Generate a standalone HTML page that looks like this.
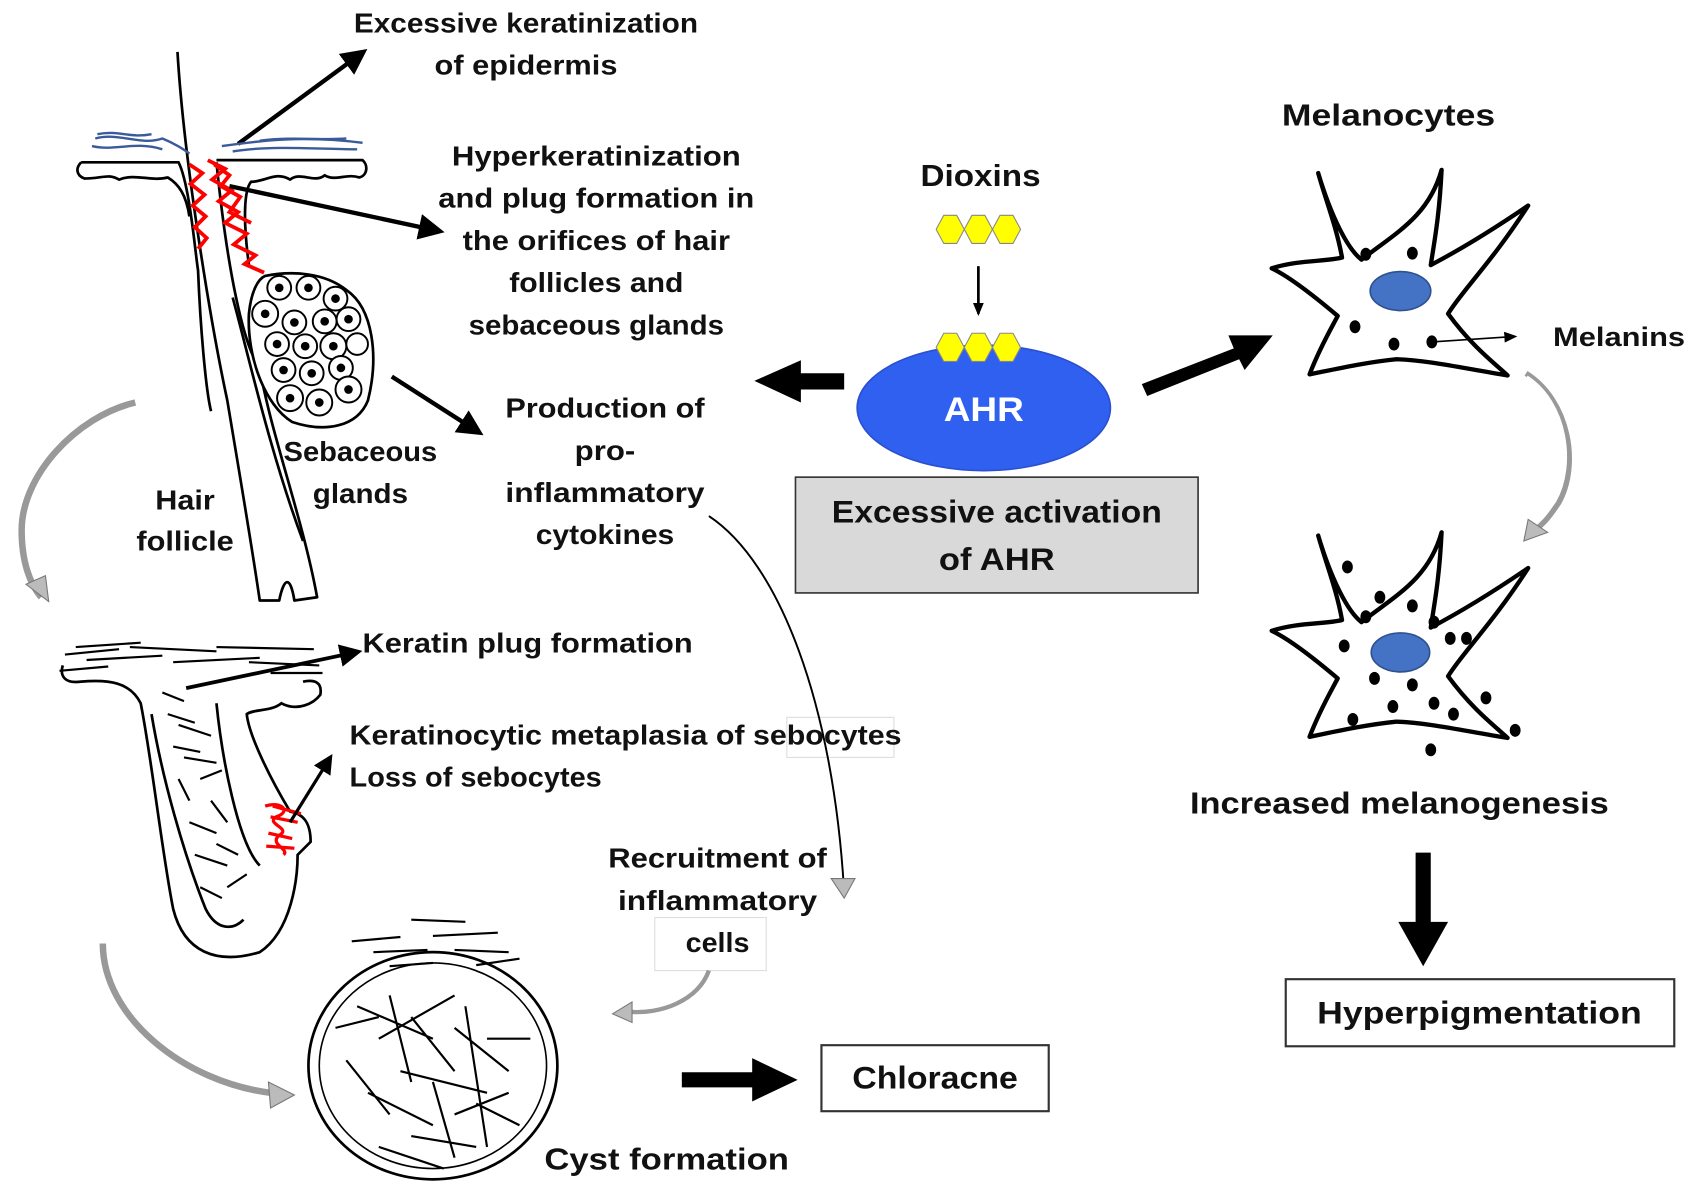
<!DOCTYPE html>
<html><head><meta charset="utf-8"><style>
html,body{margin:0;padding:0;background:#fff;}
svg{display:block;}
text{font-family:"Liberation Sans",sans-serif;font-weight:bold;fill:#111;}
</style></head><body>
<svg width="1697" height="1201" viewBox="0 0 1568 1110" preserveAspectRatio="none" xmlns="http://www.w3.org/2000/svg">
<defs>
<marker id="ah" markerWidth="6" markerHeight="6" refX="4" refY="3" orient="auto" markerUnits="strokeWidth"><path d="M0,0 L6,3 L0,6 Z" fill="#000"/></marker>
<marker id="ahs" markerWidth="12" markerHeight="10" refX="10" refY="5" orient="auto" markerUnits="userSpaceOnUse"><path d="M0,0 L12,5 L0,10 Z" fill="#000"/></marker>
<g id="hex"><polygon points="-6,-13 6,-13 13,0 6,13 -6,13 -13,0" fill="#ffff00" stroke="#888" stroke-width="1"/></g>
</defs>

<!-- top labels -->
<text x="486" y="30" font-size="26" text-anchor="middle" textLength="318" lengthAdjust="spacingAndGlyphs">Excessive keratinization</text>
<text x="486" y="69" font-size="26" text-anchor="middle" textLength="169" lengthAdjust="spacingAndGlyphs">of epidermis</text>
<line x1="220" y1="133" x2="333" y2="50" stroke="#000" stroke-width="4" marker-end="url(#ah)"/>

<!-- follicle 1 -->
<g fill="none" stroke="#000" stroke-width="2.5" stroke-linejoin="round">
<path d="M164,48 C170,150 195,300 210,370 C220,430 232,500 240,555 L258,555 C262,535 268,530 272,555 L293,552 C280,480 250,400 240,340"/>
<path d="M200,150 C210,250 225,320 240,340"/>
<path d="M75,150 L165,150 C175,170 180,230 183,250 C185,300 190,360 195,380"/>
<path d="M75,150 C70,155 70,162 78,165 C95,165 100,160 110,166 C125,160 140,168 155,164 C165,170 172,180 175,200"/>
<path d="M200,148 L335,148 C340,152 340,162 332,164 C320,160 310,168 300,162 C290,170 278,158 268,166 C255,158 245,168 232,168 C226,175 224,200 230,245"/>
<path d="M215,275 C230,330 250,420 280,500"/>
</g>
<g fill="none" stroke="#3a5a9a" stroke-width="2.2">
<path d="M88,128 C110,122 130,135 150,128 C160,132 170,138 175,142"/>
<path d="M85,135 C105,140 125,130 150,138"/>
<path d="M90,124 C110,120 120,128 140,124"/>
<path d="M205,135 C240,130 280,125 335,132"/>
<path d="M215,140 C250,134 300,138 330,138"/>
<path d="M240,130 C270,126 300,130 320,128"/>
</g>
<g fill="none" stroke="#f00" stroke-width="3.5">
<path d="M175,152 L187,160 L176,170 L189,180 L178,190 L190,200 L180,210 L191,220 L183,230"/>
<path d="M192,148 L208,156 L196,166 L214,176 L202,186 L220,196 L208,206 L228,216 L216,226 L236,236 L226,244 L244,252"/>
<path d="M198,152 L212,162 L204,172 L222,182 L212,196 L232,206"/>
</g>
<!-- sebaceous gland -->
<path d="M245,255 C270,250 300,252 320,268 C345,285 350,330 340,370 C330,395 300,400 270,390 C245,375 228,330 230,290 C232,270 238,258 245,255 Z" fill="#fff" stroke="#000" stroke-width="2.5"/>
<g fill="#fff" stroke="#000" stroke-width="1.8">
<circle cx="258" cy="266" r="11"/><circle cx="285" cy="266" r="11"/><circle cx="310" cy="276" r="11"/>
<circle cx="245" cy="290" r="12"/><circle cx="272" cy="298" r="11"/><circle cx="300" cy="297" r="11"/><circle cx="322" cy="295" r="11"/>
<circle cx="256" cy="318" r="11"/><circle cx="282" cy="320" r="11"/><circle cx="308" cy="320" r="12"/><circle cx="330" cy="318" r="10"/>
<circle cx="262" cy="342" r="11"/><circle cx="288" cy="345" r="11"/><circle cx="315" cy="340" r="11"/>
<circle cx="268" cy="368" r="12"/><circle cx="295" cy="372" r="12"/><circle cx="322" cy="360" r="12"/>
</g>
<g fill="#000">
<circle cx="258" cy="266" r="4"/><circle cx="285" cy="266" r="4"/><circle cx="310" cy="276" r="4"/>
<circle cx="245" cy="290" r="4"/><circle cx="272" cy="298" r="4"/><circle cx="300" cy="297" r="4"/><circle cx="322" cy="295" r="4"/>
<circle cx="256" cy="318" r="4"/><circle cx="282" cy="320" r="4"/><circle cx="308" cy="320" r="4"/>
<circle cx="262" cy="342" r="4"/><circle cx="288" cy="345" r="4"/><circle cx="315" cy="340" r="4"/>
<circle cx="268" cy="368" r="4"/><circle cx="295" cy="372" r="4"/><circle cx="322" cy="360" r="4"/>
</g>
<line x1="212" y1="172" x2="403" y2="213" stroke="#000" stroke-width="4" marker-end="url(#ah)"/>
<g font-size="26" text-anchor="middle">
<text x="551" y="153" textLength="267" lengthAdjust="spacingAndGlyphs">Hyperkeratinization</text>
<text x="551" y="192" textLength="292" lengthAdjust="spacingAndGlyphs">and plug formation in</text>
<text x="551" y="231" textLength="247" lengthAdjust="spacingAndGlyphs">the orifices of hair</text>
<text x="551" y="270" textLength="161" lengthAdjust="spacingAndGlyphs">follicles and</text>
<text x="551" y="309" textLength="236" lengthAdjust="spacingAndGlyphs">sebaceous glands</text>
<text x="333" y="426" textLength="142" lengthAdjust="spacingAndGlyphs">Sebaceous</text>
<text x="333" y="465" textLength="88" lengthAdjust="spacingAndGlyphs">glands</text>
<text x="171" y="471" textLength="55" lengthAdjust="spacingAndGlyphs">Hair</text>
<text x="171" y="509" textLength="90" lengthAdjust="spacingAndGlyphs">follicle</text>
<text x="559" y="386" textLength="184" lengthAdjust="spacingAndGlyphs">Production of</text>
<text x="559" y="425" textLength="56" lengthAdjust="spacingAndGlyphs">pro-</text>
<text x="559" y="464" textLength="184" lengthAdjust="spacingAndGlyphs">inflammatory</text>
<text x="559" y="503" textLength="128" lengthAdjust="spacingAndGlyphs">cytokines</text>
</g>
<line x1="362" y1="348" x2="440" y2="398" stroke="#000" stroke-width="4" marker-end="url(#ah)"/>

<!-- center -->
<polygon points="780,345 740,345 740,333 697,352 740,372 740,360 780,360" fill="#000"/>
<text x="906" y="172" font-size="28" text-anchor="middle" textLength="111" lengthAdjust="spacingAndGlyphs">Dioxins</text>
<use href="#hex" x="878" y="212"/><use href="#hex" x="904" y="212"/><use href="#hex" x="930" y="212"/>
<line x1="904" y1="246" x2="904" y2="290" stroke="#000" stroke-width="2.5" marker-end="url(#ahs)"/>
<ellipse cx="909" cy="377" rx="117" ry="58" fill="#3060f0" stroke="#2a4fcf" stroke-width="1.5"/>
<use href="#hex" x="878" y="321"/><use href="#hex" x="904" y="321"/><use href="#hex" x="930" y="321"/>
<text x="909" y="389" font-size="32" text-anchor="middle" style="fill:#fff" textLength="74" lengthAdjust="spacingAndGlyphs">AHR</text>
<rect x="735" y="441" width="372" height="107" fill="#d9d9d9" stroke="#333" stroke-width="1.5"/>
<text x="921" y="483" font-size="29" text-anchor="middle" textLength="305" lengthAdjust="spacingAndGlyphs">Excessive activation</text>
<text x="921" y="527" font-size="29" text-anchor="middle" textLength="107" lengthAdjust="spacingAndGlyphs">of AHR</text>
<polygon points="1055,355 1140,322 1135,310 1176,310 1150,342 1145,332 1060,366" fill="#000"/>

<!-- melanocytes -->
<text x="1283" y="116" font-size="28" text-anchor="middle" textLength="197" lengthAdjust="spacingAndGlyphs">Melanocytes</text>
<path d="M1218,160 C1230,200 1245,230 1258,240 C1290,215 1320,200 1332,157 C1330,200 1325,225 1322,245 C1360,225 1390,205 1412,190 C1380,240 1350,270 1338,290 C1360,320 1380,335 1393,347 C1350,340 1320,333 1290,332 C1260,335 1230,342 1210,346 C1220,320 1232,300 1236,292 C1210,270 1190,255 1175,248 C1200,240 1225,242 1240,238 C1235,210 1225,185 1218,160 Z" fill="#fff" stroke="#000" stroke-width="4" stroke-linejoin="round"/>
<ellipse cx="1294" cy="269" rx="28" ry="18" fill="#4472c4" stroke="#2f528f" stroke-width="1.5"/>
<g fill="#000"><ellipse cx="1262" cy="235" rx="5" ry="6"/><ellipse cx="1305" cy="234" rx="5" ry="6"/><ellipse cx="1252" cy="302" rx="5" ry="6"/><ellipse cx="1288" cy="318" rx="5" ry="6"/><ellipse cx="1323" cy="316" rx="5" ry="6"/></g>
<line x1="1323" y1="316" x2="1400" y2="311" stroke="#000" stroke-width="1.5" marker-end="url(#ahs)"/>
<text x="1435" y="320" font-size="25" textLength="122" lengthAdjust="spacingAndGlyphs">Melanins</text>
<path d="M1410,345 C1450,370 1460,430 1440,465 C1430,480 1425,485 1418,490" fill="none" stroke="#999" stroke-width="5"/>
<path d="M1411,348 C1448,372 1456,430 1437,463" fill="none" stroke="#fff" stroke-width="2"/>
<polygon points="1408,500 1412,480 1430,492" fill="#bbb" stroke="#777" stroke-width="1"/>

<path d="M1218,495 C1230,535 1245,565 1258,575 C1290,550 1320,535 1332,492 C1330,535 1325,560 1322,580 C1360,560 1390,540 1412,525 C1380,575 1350,605 1338,625 C1360,655 1380,670 1393,682 C1350,675 1320,668 1290,667 C1260,670 1230,677 1210,681 C1220,655 1232,635 1236,627 C1210,605 1190,590 1175,583 C1200,575 1225,577 1240,573 C1235,545 1225,520 1218,495 Z" fill="#fff" stroke="#000" stroke-width="4" stroke-linejoin="round"/>
<ellipse cx="1294" cy="603" rx="27" ry="18" fill="#4472c4" stroke="#2f528f" stroke-width="1.5"/>
<g fill="#000">
<ellipse cx="1245" cy="524" rx="5" ry="6"/><ellipse cx="1275" cy="552" rx="5" ry="6"/><ellipse cx="1262" cy="570" rx="5" ry="6"/><ellipse cx="1305" cy="560" rx="5" ry="6"/><ellipse cx="1325" cy="575" rx="5" ry="6"/><ellipse cx="1340" cy="590" rx="5" ry="6"/><ellipse cx="1355" cy="590" rx="5" ry="6"/><ellipse cx="1242" cy="597" rx="5" ry="6"/><ellipse cx="1270" cy="627" rx="5" ry="6"/><ellipse cx="1305" cy="633" rx="5" ry="6"/><ellipse cx="1287" cy="653" rx="5" ry="6"/><ellipse cx="1325" cy="650" rx="5" ry="6"/><ellipse cx="1343" cy="660" rx="5" ry="6"/><ellipse cx="1373" cy="645" rx="5" ry="6"/><ellipse cx="1250" cy="665" rx="5" ry="6"/><ellipse cx="1400" cy="675" rx="5" ry="6"/><ellipse cx="1322" cy="693" rx="5" ry="6"/>
</g>
<text x="1293" y="752" font-size="28" text-anchor="middle" textLength="387" lengthAdjust="spacingAndGlyphs">Increased melanogenesis</text>
<polygon points="1308,788 1322,788 1322,852 1338,852 1315,893 1292,852 1308,852" fill="#000"/>
<rect x="1188" y="905" width="359" height="62" fill="#fff" stroke="#333" stroke-width="2"/>
<text x="1367" y="946" font-size="29" text-anchor="middle" textLength="300" lengthAdjust="spacingAndGlyphs">Hyperpigmentation</text>

<!-- left grey arrows -->
<path d="M125,372 C70,385 20,440 20,490 C20,520 28,540 38,552" fill="none" stroke="#999" stroke-width="6"/>
<polygon points="45,556 24,540 42,532" fill="#bbb" stroke="#777"/>
<path d="M95,872 C95,940 170,1000 250,1010" fill="none" stroke="#999" stroke-width="6"/>
<polygon points="272,1012 248,1000 250,1024" fill="#bbb" stroke="#777"/>

<!-- follicle 2 -->
<g fill="none" stroke="#000" stroke-width="2.5">
<path d="M58,615 C55,625 60,632 75,630 C100,628 120,630 130,650 C140,700 150,790 160,840 C170,880 200,892 240,880 C270,860 275,810 275,790 L287,778 C287,760 280,752 268,750 C250,720 230,680 228,660 C235,655 250,658 260,650 C275,658 290,650 296,642 C298,630 290,628 280,630"/>
<path d="M140,660 C150,720 170,790 190,840 C200,860 215,860 225,850"/>
<path d="M200,650 C205,700 220,780 240,800"/>
</g>
<g stroke="#000" stroke-width="2">
<path d="M60,605 L110,600 M80,610 L150,606 M55,620 L100,616 M120,598 L200,602 M160,612 L240,608 M200,598 L290,600 M230,612 L295,615 M70,598 L130,594 M250,622 L298,622"/>
<path d="M150,640 L170,648 M155,660 L180,668 M160,690 L185,695 M165,720 L175,740 M170,700 L200,705 M175,760 L200,770 M180,790 L210,800 M185,820 L205,830 M195,740 L210,760 M200,780 L220,790 M165,670 L195,680 M185,720 L205,712 M210,820 L228,808"/>
</g>
<g fill="none" stroke="#f00" stroke-width="3"><path d="M245,745 C260,740 270,750 255,755 C245,762 270,765 258,772 C248,780 268,785 262,790 M250,755 L275,760 M248,770 L270,775 M252,745 L278,752 M246,782 L272,784"/></g>
<line x1="172" y1="636" x2="328" y2="603" stroke="#000" stroke-width="3.5" marker-end="url(#ah)"/>
<text x="335" y="603" font-size="26" textLength="305" lengthAdjust="spacingAndGlyphs">Keratin plug formation</text>
<line x1="268" y1="760" x2="304" y2="702" stroke="#000" stroke-width="3" marker-end="url(#ah)"/>
<rect x="727" y="663" width="99" height="37" fill="none" stroke="#ddd" stroke-width="1"/>
<text x="323" y="688" font-size="26" textLength="510" lengthAdjust="spacingAndGlyphs">Keratinocytic metaplasia of sebocytes</text>
<text x="323" y="727" font-size="26" textLength="233" lengthAdjust="spacingAndGlyphs">Loss of sebocytes</text>

<!-- cytokines to recruitment -->
<path d="M655,477 C720,520 770,650 780,825" fill="none" stroke="#000" stroke-width="1.8"/>
<polygon points="768,812 790,812 780,830" fill="#bbb" stroke="#777"/>
<rect x="605" y="848" width="103" height="49" fill="none" stroke="#ddd" stroke-width="1"/>
<g font-size="26" text-anchor="middle">
<text x="663" y="802" textLength="202" lengthAdjust="spacingAndGlyphs">Recruitment of</text>
<text x="663" y="841" textLength="184" lengthAdjust="spacingAndGlyphs">inflammatory</text>
<text x="663" y="880" textLength="59" lengthAdjust="spacingAndGlyphs">cells</text>
</g>
<path d="M655,897 C645,925 610,938 580,935" fill="none" stroke="#999" stroke-width="4"/>
<polygon points="566,937 584,926 584,945" fill="#bbb" stroke="#777"/>

<!-- cyst -->
<ellipse cx="400" cy="985" rx="115" ry="105" fill="none" stroke="#000" stroke-width="2.5"/>
<ellipse cx="400" cy="985" rx="105" ry="95" fill="none" stroke="#000" stroke-width="1.5"/>
<g stroke="#000" stroke-width="2">
<path d="M325,870 L370,866 M345,880 L395,878 M380,850 L430,852 M400,865 L460,862 M420,878 L470,880 M440,892 L480,886 M360,893 L400,890"/>
<path d="M330,930 L400,960 M350,960 L420,920 M370,990 L450,1010 M340,1010 L400,1040 M420,950 L470,990 M380,1050 L440,1060 M440,1020 L480,1040 M360,920 L380,1000 M430,930 L450,1060 M320,980 L360,1030 M400,1000 L420,1070 M350,1060 L410,1080 M450,960 L490,960 M310,950 L350,940 M380,940 L420,990 M420,1030 L470,1010"/>
</g>
<text x="616" y="1081" font-size="28" text-anchor="middle" textLength="226" lengthAdjust="spacingAndGlyphs">Cyst formation</text>
<polygon points="630,991 695,991 695,978 737,998 695,1018 695,1005 630,1005" fill="#000"/>
<rect x="759" y="966" width="210" height="61" fill="#fff" stroke="#333" stroke-width="2"/>
<text x="864" y="1006" font-size="29" text-anchor="middle" textLength="153" lengthAdjust="spacingAndGlyphs">Chloracne</text>
</svg>
</body></html>
